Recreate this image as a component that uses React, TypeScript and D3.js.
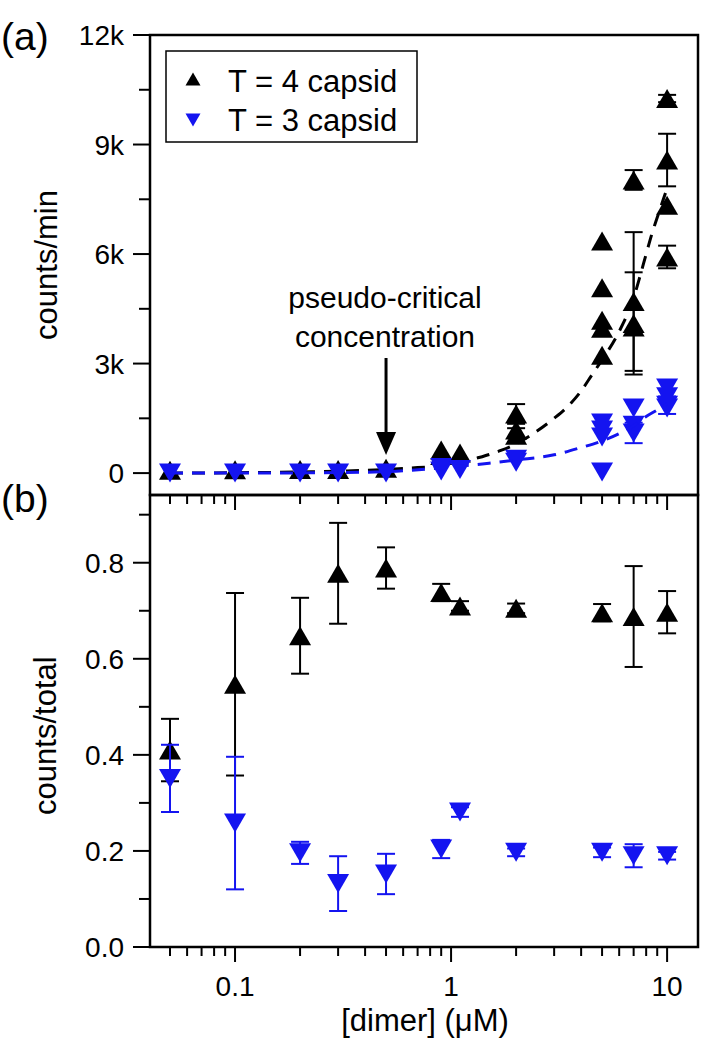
import React from "react";
import * as d3 from "d3";

// ---------- data ----------
// Panel (a): counts/min
const t4X = [0.05, 0.1, 0.2, 0.3, 0.5, 0.9, 0.9, 1.1, 2, 2, 2, 5, 5, 5, 5, 5, 7, 7, 7, 7, 10, 10, 10, 10];
const t4Y = [80, 90, 100, 100, 130, 630, 480, 550, 1620, 1180, 1040, 6360, 5080, 4190, 3970, 3230, 8030, 4700, 4100, 4000, 10260, 8575, 7340, 5920];
const t4E = [0, 0, 0, 0, 0, 0, 0, 0, 270, 0, 190, 0, 0, 0, 0, 0, 270, 1900, 1400, 0, 100, 720, 0, 310];

const t3X = [0.05, 0.1, 0.2, 0.3, 0.5, 0.9, 0.9, 1.1, 2, 2, 5, 5, 5, 5, 7, 7, 7, 10, 10, 10, 10];
const t3Y = [0, 0, 0, 0, 0, 150, 60, 100, 380, 300, 1370, 1180, 990, 30, 1780, 1310, 1100, 2330, 2090, 1860, 1780];
const t3E = [0, 0, 0, 0, 0, 0, 0, 0, 0, 0, 0, 0, 0, 0, 0, 0, 280, 0, 0, 240, 0];

// dashed fit curves
const fit4X = [0.05, 0.1, 0.2, 0.3, 0.5, 0.7, 1.0, 1.3, 1.7, 2, 2.5, 3, 3.5, 4, 4.5, 5, 6, 7, 7.5, 8, 8.5, 9, 10];
const fit4Y = [0, 10, 30, 50, 100, 150, 220, 400, 620, 800, 1150, 1500, 1850, 2250, 2700, 3100, 3880, 4800, 5400, 6000, 6550, 7000, 7800];
const fit3X = [0.05, 0.1, 0.2, 0.3, 0.5, 0.8, 1.0, 1.5, 2, 3, 4, 5, 6, 7, 8, 9, 10];
const fit3Y = [0, 0, 5, 15, 40, 120, 170, 270, 360, 500, 700, 880, 1080, 1300, 1550, 1730, 1900];

// Panel (b): counts/total
const fracX = [0.05, 0.1, 0.2, 0.3, 0.5, 0.9, 1.1, 2, 5, 7, 10];
const frac4Y = [0.41, 0.547, 0.648, 0.778, 0.789, 0.738, 0.71, 0.705, 0.696, 0.688, 0.697];
const frac4E = [0.065, 0.19, 0.079, 0.105, 0.043, 0.018, 0.01, 0.01, 0.018, 0.105, 0.044];
const frac3Y = [0.351, 0.258, 0.196, 0.132, 0.152, 0.204, 0.281, 0.197, 0.197, 0.19, 0.19];
const frac3E = [0.07, 0.138, 0.023, 0.057, 0.042, 0.019, 0.01, 0.008, 0.01, 0.024, 0.008];

const xMajorTicks = [0.1, 1, 10];
const xTickLabels = ["0.1", "1", "10"];
const xMinorTicks = [0.05, 0.06, 0.07, 0.08, 0.09, 0.2, 0.3, 0.4, 0.5, 0.6, 0.7, 0.8, 0.9, 2, 3, 4, 5, 6, 7, 8, 9];
const topMajorTicks = [0, 3000, 6000, 9000, 12000];
const topTickLabels = ["0", "3k", "6k", "9k", "12k"];
const topMinorTicks = [1500, 4500, 7500, 10500];
const botMajorTicks = [0, 0.2, 0.4, 0.6, 0.8];
const botTickLabels = ["0.0", "0.2", "0.4", "0.6", "0.8"];
const botMinorTicks = [0.1, 0.3, 0.5, 0.7, 0.9];

const legendLabels = ["T = 4 capsid", "T = 3 capsid"];
const annotationLines = ["pseudo-critical", "concentration"];
const arrowX = 0.5;

// ---------- layout ----------
const W = 709, H = 1050;
const L = 150, R = 698, T = 35, MID = 495, B = 947;
const FONT = "'Liberation Sans', Arial, Helvetica, sans-serif";
const BLUE = "#1414f0";

const x = d3.scaleLog().domain([0.0404, 13.9]).range([L, R]);
const yTop = d3.scaleLinear().domain([-600, 12000]).range([MID, T]);
const yBot = d3.scaleLinear().domain([0, 0.941]).range([B, MID]);

function tri(cx: number, cy: number, up: boolean, w = 22, h = 19) {
  const s = up ? 1 : -1;
  return `M${cx},${cy - (s * h) / 2}L${cx + w / 2},${cy + (s * h) / 2}L${cx - w / 2},${cy + (s * h) / 2}Z`;
}

function ErrBars({ xs, ys, es, ys2, color }: any) {
  return (
    <g stroke={color} strokeWidth={2} fill="none">
      {xs.map((xv: number, i: number) => {
        if (!es[i]) return null;
        const px = x(xv);
        const y1 = ys2(ys[i] + es[i]);
        const y2 = ys2(ys[i] - es[i]);
        return (
          <g key={i}>
            <line x1={px} x2={px} y1={y1} y2={y2} />
            <line x1={px - 9} x2={px + 9} y1={y1} y2={y1} />
            <line x1={px - 9} x2={px + 9} y1={y2} y2={y2} />
          </g>
        );
      })}
    </g>
  );
}

function Markers({ xs, ys, ysc, up, color }: any) {
  return (
    <g fill={color}>
      {xs.map((xv: number, i: number) => (
        <path key={i} d={tri(x(xv), ysc(ys[i]), up)} />
      ))}
    </g>
  );
}

export default function App() {
  const line4 = d3
    .line<number>()
    .x((_, i) => x(fit4X[i]))
    .y((d) => yTop(d))
    .curve(d3.curveMonotoneX)(fit4Y) as string;
  const line3 = d3
    .line<number>()
    .x((_, i) => x(fit3X[i]))
    .y((d) => yTop(d))
    .curve(d3.curveMonotoneX)(fit3Y) as string;

  const ax = x(arrowX);

  return (
    <svg width={W} height={H} style={{ position: "absolute", left: 0, top: 0, background: "#fff" }} fontFamily={FONT}>
      <rect x={0} y={0} width={W} height={H} fill="#fff" />

      {/* Panel (a) data */}
      <path d={line4} fill="none" stroke="#000" strokeWidth={3} strokeDasharray="13,9" />
      <ErrBars xs={t4X} ys={t4Y} es={t4E} ys2={yTop} color="#000" />
      <Markers xs={t4X} ys={t4Y} ysc={yTop} up={true} color="#000" />
      <ErrBars xs={t3X} ys={t3Y} es={t3E} ys2={yTop} color={BLUE} />
      <Markers xs={t3X} ys={t3Y} ysc={yTop} up={false} color={BLUE} />
      <path d={line3} fill="none" stroke={BLUE} strokeWidth={3} strokeDasharray="13,9" />

      {/* Panel (b) data */}
      <ErrBars xs={fracX} ys={frac4Y} es={frac4E} ys2={yBot} color="#000" />
      <Markers xs={fracX} ys={frac4Y} ysc={yBot} up={true} color="#000" />
      <ErrBars xs={fracX} ys={frac3Y} es={frac3E} ys2={yBot} color={BLUE} />
      <Markers xs={fracX} ys={frac3Y} ysc={yBot} up={false} color={BLUE} />

      {/* frames */}
      <rect x={L} y={T} width={R - L} height={MID - T} fill="none" stroke="#000" strokeWidth={2.5} />
      <rect x={L} y={MID} width={R - L} height={B - MID} fill="none" stroke="#000" strokeWidth={2.5} />

      {/* x ticks (below each panel) */}
      {[MID, B].map((yy, k) => (
        <g key={k} stroke="#000" strokeWidth={2}>
          {xMajorTicks.map((t) => (
            <line key={"M" + t} x1={x(t)} x2={x(t)} y1={yy} y2={yy + 15} />
          ))}
          {xMinorTicks.map((t) => (
            <line key={"m" + t} x1={x(t)} x2={x(t)} y1={yy} y2={yy + 9} />
          ))}
        </g>
      ))}
      {xMajorTicks.map((t, i) => (
        <text key={t} x={x(t)} y={996} fontSize={28} textAnchor="middle">
          {xTickLabels[i]}
        </text>
      ))}
      <text x={425} y={1031} fontSize={31} textAnchor="middle">
        [dimer] (μM)
      </text>

      {/* y ticks */}
      <g stroke="#000" strokeWidth={2}>
        {topMajorTicks.map((t) => (
          <line key={t} x1={L - 17} x2={L} y1={yTop(t)} y2={yTop(t)} />
        ))}
        {topMinorTicks.map((t) => (
          <line key={t} x1={L - 11} x2={L} y1={yTop(t)} y2={yTop(t)} />
        ))}
        {botMajorTicks.map((t) => (
          <line key={t} x1={L - 17} x2={L} y1={yBot(t)} y2={yBot(t)} />
        ))}
        {botMinorTicks.map((t) => (
          <line key={t} x1={L - 11} x2={L} y1={yBot(t)} y2={yBot(t)} />
        ))}
      </g>
      {topMajorTicks.map((t, i) => (
        <text key={t} x={124} y={yTop(t) + 10} fontSize={28} textAnchor="end">
          {topTickLabels[i]}
        </text>
      ))}
      {botMajorTicks.map((t, i) => (
        <text key={t} x={124} y={yBot(t) + 10} fontSize={28} textAnchor="end">
          {botTickLabels[i]}
        </text>
      ))}

      <text transform={`translate(57,${yTop(5700)}) rotate(-90)`} fontSize={31} textAnchor="middle">
        counts/min
      </text>
      <text transform={`translate(56,${yBot(0.44)}) rotate(-90)`} fontSize={31} textAnchor="middle">
        counts/total
      </text>

      <text x={1} y={50} fontSize={39}>(a)</text>
      <text x={1} y={512} fontSize={39}>(b)</text>

      {/* legend */}
      <rect x={166} y={51} width={251} height={91} fill="#fff" stroke="#000" strokeWidth={1.5} />
      <path d={tri(193, 79, true, 15, 13)} fill="#000" />
      <path d={tri(193, 120, false, 15, 13)} fill={BLUE} />
      <text x={228} y={92} fontSize={31}>{legendLabels[0]}</text>
      <text x={228} y={131} fontSize={31}>{legendLabels[1]}</text>

      {/* annotation */}
      <text x={385} y={308} fontSize={30} textAnchor="middle">{annotationLines[0]}</text>
      <text x={385} y={347} fontSize={30} textAnchor="middle">{annotationLines[1]}</text>
      <line x1={ax} x2={ax} y1={358} y2={434} stroke="#000" strokeWidth={3} />
      <path d={`M${ax - 10},${432}L${ax + 10},${432}L${ax},${455}Z`} fill="#000" />
    </svg>
  );
}
